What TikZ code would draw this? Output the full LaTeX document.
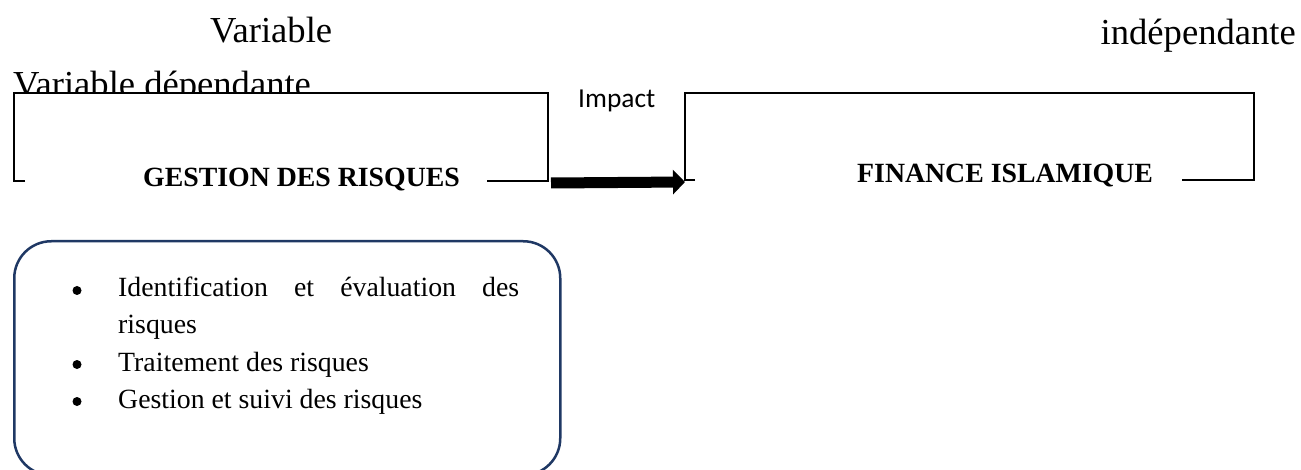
\documentclass[tikz,border=0pt]{standalone}
\usepackage{fontspec}
\setmainfont{Liberation Serif}
\newfontfamily\calibrifont{Carlito}
\usetikzlibrary{arrows.meta}
\definecolor{navy}{HTML}{1F3864}
\begin{document}
\begin{tikzpicture}[x=1pt,y=-1pt,
  bigtxt/.style={font=\fontsize{36.6}{40}\selectfont, inner sep=0pt, anchor=base west},
  boldtxt/.style={font=\fontsize{27.8}{32}\selectfont\bfseries, inner sep=0pt, anchor=base west},
  itemtxt/.style={font=\fontsize{27.8}{32}\selectfont, inner sep=0pt, anchor=base west},
  frame/.style={line width=2pt},
  panel/.style={inner sep=0pt, outer sep=0pt, fill=white, anchor=north west},
  bulletdot/.style={circle, fill=black, inner sep=0pt, minimum size=9pt},
  bigarrow/.style={line width=11pt, -{Triangle[length=12pt, width=24pt]}},
]
\clip (0,0) rectangle (1301,470);
\fill[white] (0,0) rectangle (1301,470);

% headings
\node[bigtxt] (v1) at (210,43) {Variable};
\node[bigtxt, anchor=base east] (v2) at (1296,45) {indépendante};
\node[bigtxt] (v3) at (13,97) {Variable dépendante};

% boxes
\node[panel, minimum width=534pt, minimum height=88pt] (lbox) at (14,93) {};
\node[panel, minimum width=569pt, minimum height=87pt] (rbox) at (685,93) {};
\draw[frame] ([xshift=11pt]lbox.south west) -- (lbox.south west) -- (lbox.north west)
  -- (lbox.north east) -- (lbox.south east) -- ([xshift=-61pt]lbox.south east);
\draw[frame] ([xshift=10pt]rbox.south west) -- (rbox.south west) -- (rbox.north west)
  -- (rbox.north east) -- (rbox.south east) -- ([xshift=-72pt]rbox.south east);

\node[boldtxt] (g) at (143,187) {GESTION DES RISQUES};
\node[boldtxt] (f) at (857,183) {FINANCE ISLAMIQUE};

% impact arrow
\node[font=\calibrifont\fontsize{27.4}{30}\selectfont, inner sep=0pt, anchor=base west] (imp) at (578,108) {Impact};
\draw[bigarrow] ([xshift=3pt,yshift=-2pt]lbox.south east) -- ([yshift=-2pt]rbox.south west);

% list panel
\node[draw=navy, line width=2.5pt, rounded corners=37pt, minimum width=546pt,
  minimum height=234pt, anchor=north west, inner sep=0pt] (lst) at (13,240) {};
\node[bulletdot] (b1) at (77,290.5) {};
\node[itemtxt] (t1) at (118,297) {\makebox[401pt][s]{Identification et évaluation des}};
\node[itemtxt] (t1b) at (118,334) {risques};
\node[bulletdot] (b2) at (77,364.5) {};
\node[itemtxt] (t2) at (118,371) {Traitement des risques};
\node[bulletdot] (b3) at (77,401.5) {};
\node[itemtxt] (t3) at (118,408) {Gestion et suivi des risques};
\end{tikzpicture}
\end{document}
